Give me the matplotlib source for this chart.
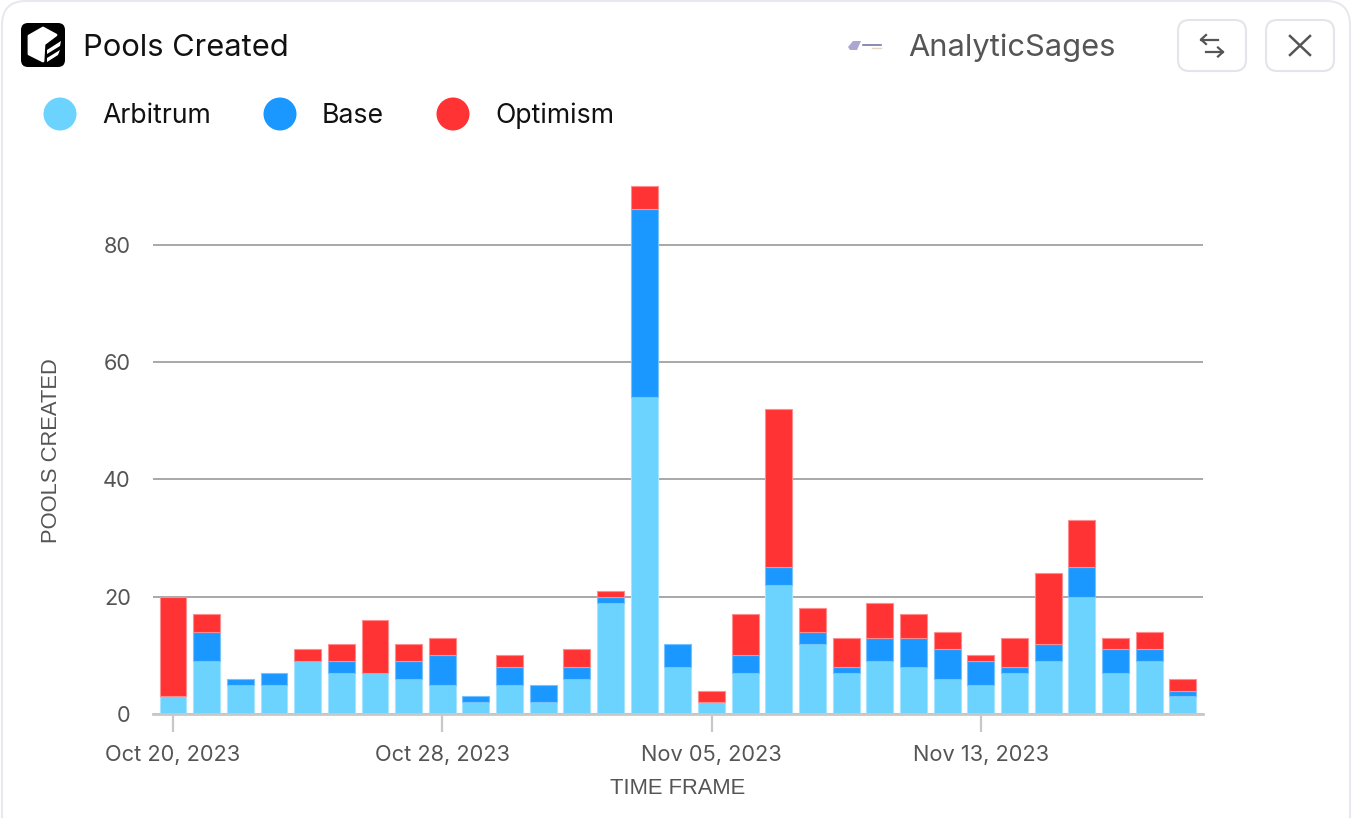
import pandas as pd
import matplotlib
matplotlib.use("Agg")
import matplotlib.pyplot as plt
import matplotlib.dates as mdates
from matplotlib.patches import FancyBboxPatch, Circle, Polygon

plt.rcParams['font.family'] = ['Inter', 'DejaVu Sans']

# Data
days = pd.date_range("2023-10-20", "2023-11-19", freq="D")
arbitrum = [3, 9, 5, 5, 9, 7, 7, 6, 5, 2, 5, 2, 6, 19, 54, 8, 2, 7, 22, 12, 7, 9, 8, 6, 5, 7, 9, 20, 7, 9, 3]
base = [0, 5, 1, 2, 0, 2, 0, 3, 5, 1, 3, 3, 2, 1, 32, 4, 0, 3, 3, 2, 1, 4, 5, 5, 4, 1, 3, 5, 4, 2, 1]
optimism = [17, 3, 0, 0, 2, 3, 9, 3, 3, 0, 2, 0, 3, 1, 4, 0, 2, 7, 27, 4, 5, 6, 4, 3, 1, 5, 12, 8, 2, 3, 2]
series_names = ["Arbitrum", "Base", "Optimism"]
series_colors = ["#6cd3ff", "#1a98ff", "#ff3333"]
edge_colors = ["#a6e4ff", "#76c1ff", "#ff8d8d"]
y_ticks = [0, 20, 40, 60, 80]
x_ticks = days[::8]

W, H = 1352, 818
fig = plt.figure(figsize=(W / 100, H / 100), dpi=100, facecolor="white")

# Card and header live in an overlay that uses pixel coordinates
ui = fig.add_axes([0, 0, 1, 1], zorder=0)
ui.set_xlim(0, W)
ui.set_ylim(H, 0)
ui.axis("off")

ui.add_patch(FancyBboxPatch((2, 1), W - 4, H + 40, boxstyle="round,pad=0,rounding_size=24",
                            fc="white", ec="#e8e8ee", lw=1.5))

# logo
ui.add_patch(FancyBboxPatch((21, 23), 44, 44, boxstyle="round,pad=0,rounding_size=7", fc="black", ec="none"))
ui.add_patch(Polygon([(43, 28), (56, 35), (44, 44), (43, 61), (29, 54), (29, 36)], fc="white", ec="white",
                     lw=2, joinstyle="round"))
ui.add_patch(Polygon([(47, 50), (61, 41), (60, 46), (47, 54)], fc="white", ec="none"))
ui.add_patch(Polygon([(47, 58), (60, 50), (58, 55), (47, 62)], fc="white", ec="none"))

ui.text(83, 45, "Pools Created", fontsize=22.2, color="#111111", va="center_baseline", ha="left")

# tiny publisher logo
ui.add_patch(Polygon([(848, 47), (853, 41), (861, 41), (857, 50), (850, 50)], fc="#aaa8d0", ec="none"))
ui.plot([863, 881], [44.5, 44.5], color="#55558c", lw=1.2, alpha=0.8)
ui.plot([872, 881], [48, 48], color="#e4d8c4", lw=1)
ui.text(908, 45, "AnalyticSages", fontsize=22.2, color="#555555", va="center_baseline", ha="left")

# header buttons
for bx in (1178, 1266):
    ui.add_patch(FancyBboxPatch((bx, 20), 68, 51, boxstyle="round,pad=0,rounding_size=11",
                                fc="white", ec="#e4e4ea", lw=1.5))
ui.plot([1201, 1218], [39.5, 39.5], color="#555555", lw=1.6)
ui.plot([1206, 1201, 1206], [35, 39.5, 44], color="#555555", lw=1.6)
ui.plot([1206, 1223], [52, 52], color="#555555", lw=1.6)
ui.plot([1218, 1223, 1218], [47.5, 52, 56.5], color="#555555", lw=1.6)
ui.plot([1290, 1310], [36, 55], color="#555555", lw=1.8)
ui.plot([1310, 1290], [36, 55], color="#555555", lw=1.8)

# legend
legend_dots = [60, 280, 453]
legend_text = [102, 322, 495]
for name, color, dx, tx in zip(series_names, series_colors, legend_dots, legend_text):
    ui.add_patch(Circle((dx, 114), 16.5, fc=color, ec="none"))
    ui.text(tx, 113, name, fontsize=19.2, color="#111111", va="center_baseline", ha="left")

# Chart
left, right, top, bottom = 153, 1203, 180, 714
ax = fig.add_axes([left / W, 1 - bottom / H, (right - left) / W, (bottom - top) / H], zorder=1)
ax.patch.set_alpha(0)

bottoms = [0] * len(days)
for values, color, edge, name in zip([arbitrum, base, optimism], series_colors, edge_colors, series_names):
    # zero values get no edge, otherwise they show up as a thin line
    widths = [0.8 if v > 0 else 0 for v in values]
    ax.bar(days, values, width=0.8, bottom=bottoms, color=color, edgecolor=edge, linewidth=widths, label=name, zorder=3)
    bottoms = [b + v for b, v in zip(bottoms, values)]

ax.set_ylim(0, 91)
ax.set_xlim(days[0] - pd.Timedelta(days=0.595), days[-1] + pd.Timedelta(days=0.6))
ax.set_yticks(y_ticks)
ax.set_xticks(x_ticks)
ax.xaxis.set_major_formatter(mdates.DateFormatter("%b %d, %Y"))

ax.grid(axis="y", color="#a8a8a8", linewidth=1.4, zorder=1)
ax.grid(axis="x", visible=False)
ax.set_axisbelow(True)
for side in ("top", "right", "left"):
    ax.spines[side].set_visible(False)
ax.spines["bottom"].set_color("#c8c8c8")
ax.spines["bottom"].set_linewidth(2.0)
ax.spines["bottom"].set_zorder(4)

ax.tick_params(axis="y", length=0, pad=16, labelsize=15.7, labelcolor="#555555")
ax.tick_params(axis="x", length=13, width=1.6, color="#c8c8c8", pad=9, labelsize=15.7, labelcolor="#555555")

ax.set_xlabel("TIME FRAME", fontsize=15.8, color="#555555", family="Liberation Sans")
ax.xaxis.set_label_coords((678 - left) / (right - left), -(788 - bottom) / (bottom - top), transform=ax.transAxes)
ax.xaxis.label.set_va("center")
ax.set_ylabel("POOLS CREATED", fontsize=15.8, color="#555555", family="Liberation Sans")
ax.yaxis.set_label_coords(-(left - 52) / (right - left), (bottom - 451) / (bottom - top), transform=ax.transAxes)
ax.yaxis.label.set_va("center")

fig.savefig("out.png", dpi=100)
